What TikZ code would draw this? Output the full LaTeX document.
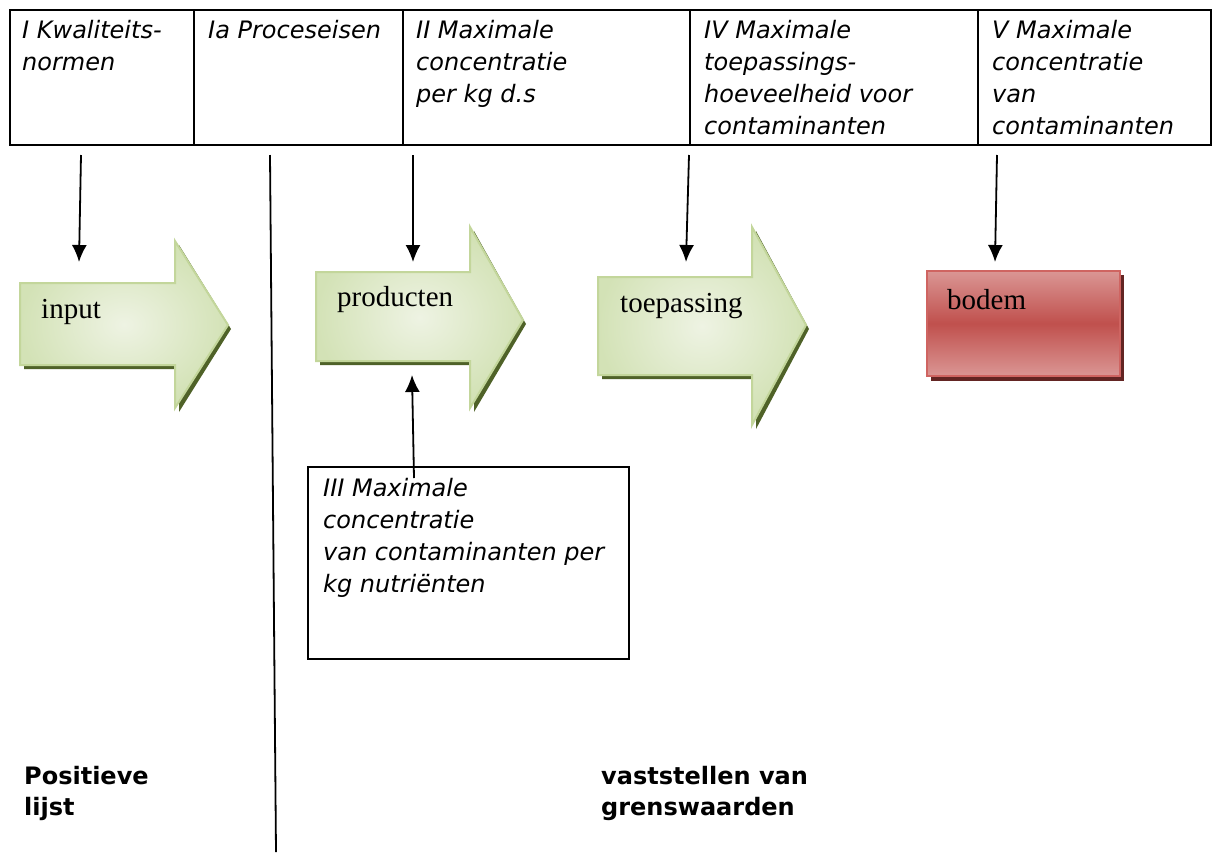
\documentclass[tikz,border=0pt]{standalone}
\usepackage{fontspec}
\setmainfont{Liberation Serif}
\newfontfamily\verd{DejaVu Sans}
\usetikzlibrary{arrows.meta}
\definecolor{gLight}{HTML}{EEF3E3}
\definecolor{gDark}{HTML}{D3E2B6}
\definecolor{gLine}{HTML}{C3D69B}
\definecolor{gShadow}{HTML}{4F6228}
\definecolor{rLight}{HTML}{DA9694}
\definecolor{rMid}{HTML}{C0504D}
\definecolor{rLine}{HTML}{CF6461}
\definecolor{rShadow}{HTML}{632523}
\tikzset{
  celltext/.style={anchor=north west, inner sep=0pt, align=left, font=\verd\itshape\fontsize{24}{32}\selectfont},
  boldtext/.style={anchor=north west, inner sep=0pt, align=left, font=\verd\bfseries\fontsize{24}{31}\selectfont},
  arrowlabel/.style={anchor=base west, inner sep=0pt, font=\fontsize{29}{34}\selectfont},
  conn/.style={line width=1.8pt, -{Latex[length=17pt,width=15pt]}},
  rule/.style={line width=1.8pt},
  blockarrow/.style={inner color=gLight, outer color=gDark, draw=gLine, line width=2pt, line join=miter},
  arrowshadow/.style={fill=gShadow},
}
\newcommand{\myblockarrow}[8]{%
  \fill[arrowshadow] (#1+4,#3+4) -- (#2+4,#3+4) -- (#2+4,#5+4) -- (#7+3,#8+4) -- (#2+4,#6+4) -- (#2+4,#4+4) -- (#1+4,#4+4) -- cycle;
  \path[blockarrow] (#1,#3) -- (#2,#3) -- (#2,#5) -- (#7,#8) -- (#2,#6) -- (#2,#4) -- (#1,#4) -- cycle;
}
\begin{document}
\begin{tikzpicture}[x=1pt,y=-1pt]
\useasboundingbox (0,0) rectangle (1213,852);
% table
\draw[rule] (10,10) rectangle (1211,145);
\draw[rule] (194,10) -- (194,145);
\draw[rule] (403,10) -- (403,145);
\draw[rule] (690,10) -- (690,145);
\draw[rule] (978,10) -- (978,145);
\node[celltext] (c1) at (22,20) {I Kwaliteits-\\normen};
\node[celltext] (c2) at (208,20) {Ia Proceseisen};
\node[celltext] (c3) at (416,20) {II Maximale\\concentratie\\per kg d.s};
\node[celltext] (c4) at (704,20) {IV Maximale\\toepassings-\\hoeveelheid voor\\contaminanten};
\node[celltext] (c5) at (992,20) {V Maximale\\concentratie\\van\\contaminanten};
% block arrows
\myblockarrow{20}{175}{283}{365}{241}{408}{228}{325}
\myblockarrow{316}{470}{272}{361}{227}{408}{523}{320}
\myblockarrow{598}{752}{277}{375}{227}{425}{806}{325}
\node[arrowlabel] (lin) at (41,318) {input};
\node[arrowlabel] (lpr) at (337,306) {producten};
\node[arrowlabel] (lto) at (620,312) {toepassing};
% bodem
\fill[rShadow] (931,275) rectangle (1124,381);
\path[top color=rLight, bottom color=rLight, middle color=rMid, draw=rLine, line width=2pt] (927,271) rectangle (1120,376);
\node[arrowlabel] (lbo) at (947,309) {bodem};
% box III
\draw[rule] (308,467) rectangle (629,659);
\node[celltext] (c6) at (323,478) {III Maximale\\concentratie\\van contaminanten per\\kg nutriënten};
% connectors
\coordinate (s1) at (81,155); \coordinate (e1) at (79,262);
\coordinate (s3) at (413,155); \coordinate (e3) at (413,262);
\coordinate (s4) at (689,155); \coordinate (e4) at (686,262);
\coordinate (s5) at (997,155); \coordinate (e5) at (995,262);
\coordinate (s6) at (414,478); \coordinate (e6) at (412,375);
\coordinate (l1) at (270,155); \coordinate (l2) at (276,852);
\draw[conn] (s1) -- (e1);
\draw[conn] (s3) -- (e3);
\draw[conn] (s4) -- (e4);
\draw[conn] (s5) -- (e5);
\draw[conn] (s6) -- (e6);
\draw[rule] (l1) -- (l2);
% bottom labels
\node[boldtext] (pl) at (24,766) {Positieve\\lijst};
\node[boldtext] (vg) at (601,766) {vaststellen van\\grenswaarden};
\end{tikzpicture}
\end{document}
